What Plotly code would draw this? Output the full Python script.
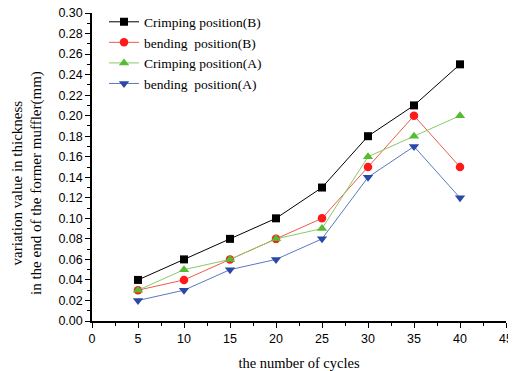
import plotly.graph_objects as go

cycles = [5, 10, 15, 20, 25, 30, 35, 40]
crimping_B = [0.04, 0.06, 0.08, 0.10, 0.13, 0.18, 0.21, 0.25]
bending_B = [0.03, 0.04, 0.06, 0.08, 0.10, 0.15, 0.20, 0.15]
crimping_A = [0.03, 0.05, 0.06, 0.08, 0.09, 0.16, 0.18, 0.20]
bending_A = [0.02, 0.03, 0.05, 0.06, 0.08, 0.14, 0.17, 0.12]

series = [
    ("Crimping position(B)", crimping_B, "#000000", "#000000", "square", 8),
    ("bending  position(B)", bending_B, "#ff1a1a", "#f05a48", "circle", 8.5),
    ("Crimping position(A)", crimping_A, "#55bb33", "#88cc66", "triangle-up", 9),
    ("bending  position(A)", bending_A, "#2a48a8", "#5a78c0", "triangle-down", 9),
]

fig = go.Figure()
for name, vals, mc, lc, sym, sz in series:
    fig.add_trace(go.Scatter(
        x=cycles, y=vals, name=name, mode="lines+markers",
        line=dict(color=lc, width=1),
        marker=dict(color=mc, symbol=sym, size=sz),
    ))

axis_common = dict(
    showline=True, linecolor="black", linewidth=1.5, ticks="outside",
    ticklen=5, tickwidth=1.2, tickcolor="black", showgrid=False, zeroline=False,
    tickfont=dict(family="Liberation Sans, Arial", size=12.5, color="black"),
    mirror=False, automargin=False, ticklabeloverflow="allow",
)

fig.update_xaxes(
    range=[0, 45], tick0=0, dtick=5,
    minor=dict(ticks="outside", ticklen=3, dtick=2.5, tickcolor="black"),
    title=dict(text="the number of cycles",
               font=dict(family="Liberation Serif, Times New Roman", size=14.5, color="black"),
               standoff=14),
    **axis_common,
)
fig.update_yaxes(
    range=[0, 0.30], tick0=0, dtick=0.02, tickformat=".2f",
    minor=dict(ticks="outside", ticklen=3, dtick=0.01, tickcolor="black"),
    **axis_common,
)

fig.add_annotation(
    text="variation value in thickness<br>in the end of the former muffler(mm)",
    xref="paper", yref="paper", x=-0.157, y=0.448, xanchor="center", yanchor="middle",
    textangle=-90, showarrow=False,
    font=dict(family="Liberation Serif, Times New Roman", size=15, color="black"),
)

fig.update_layout(
    width=508, height=363,
    margin=dict(l=84, r=10, t=5, b=50, autoexpand=False),
    paper_bgcolor="white", plot_bgcolor="white",
    showlegend=True,
    legend=dict(x=0.029, y=1.021, xanchor="left", yanchor="top",
                bgcolor="rgba(0,0,0,0)",
                font=dict(family="Liberation Serif, Times New Roman", size=13.5, color="black"),
                tracegroupgap=0, itemwidth=30),
)

fig.write_html("out.html")
